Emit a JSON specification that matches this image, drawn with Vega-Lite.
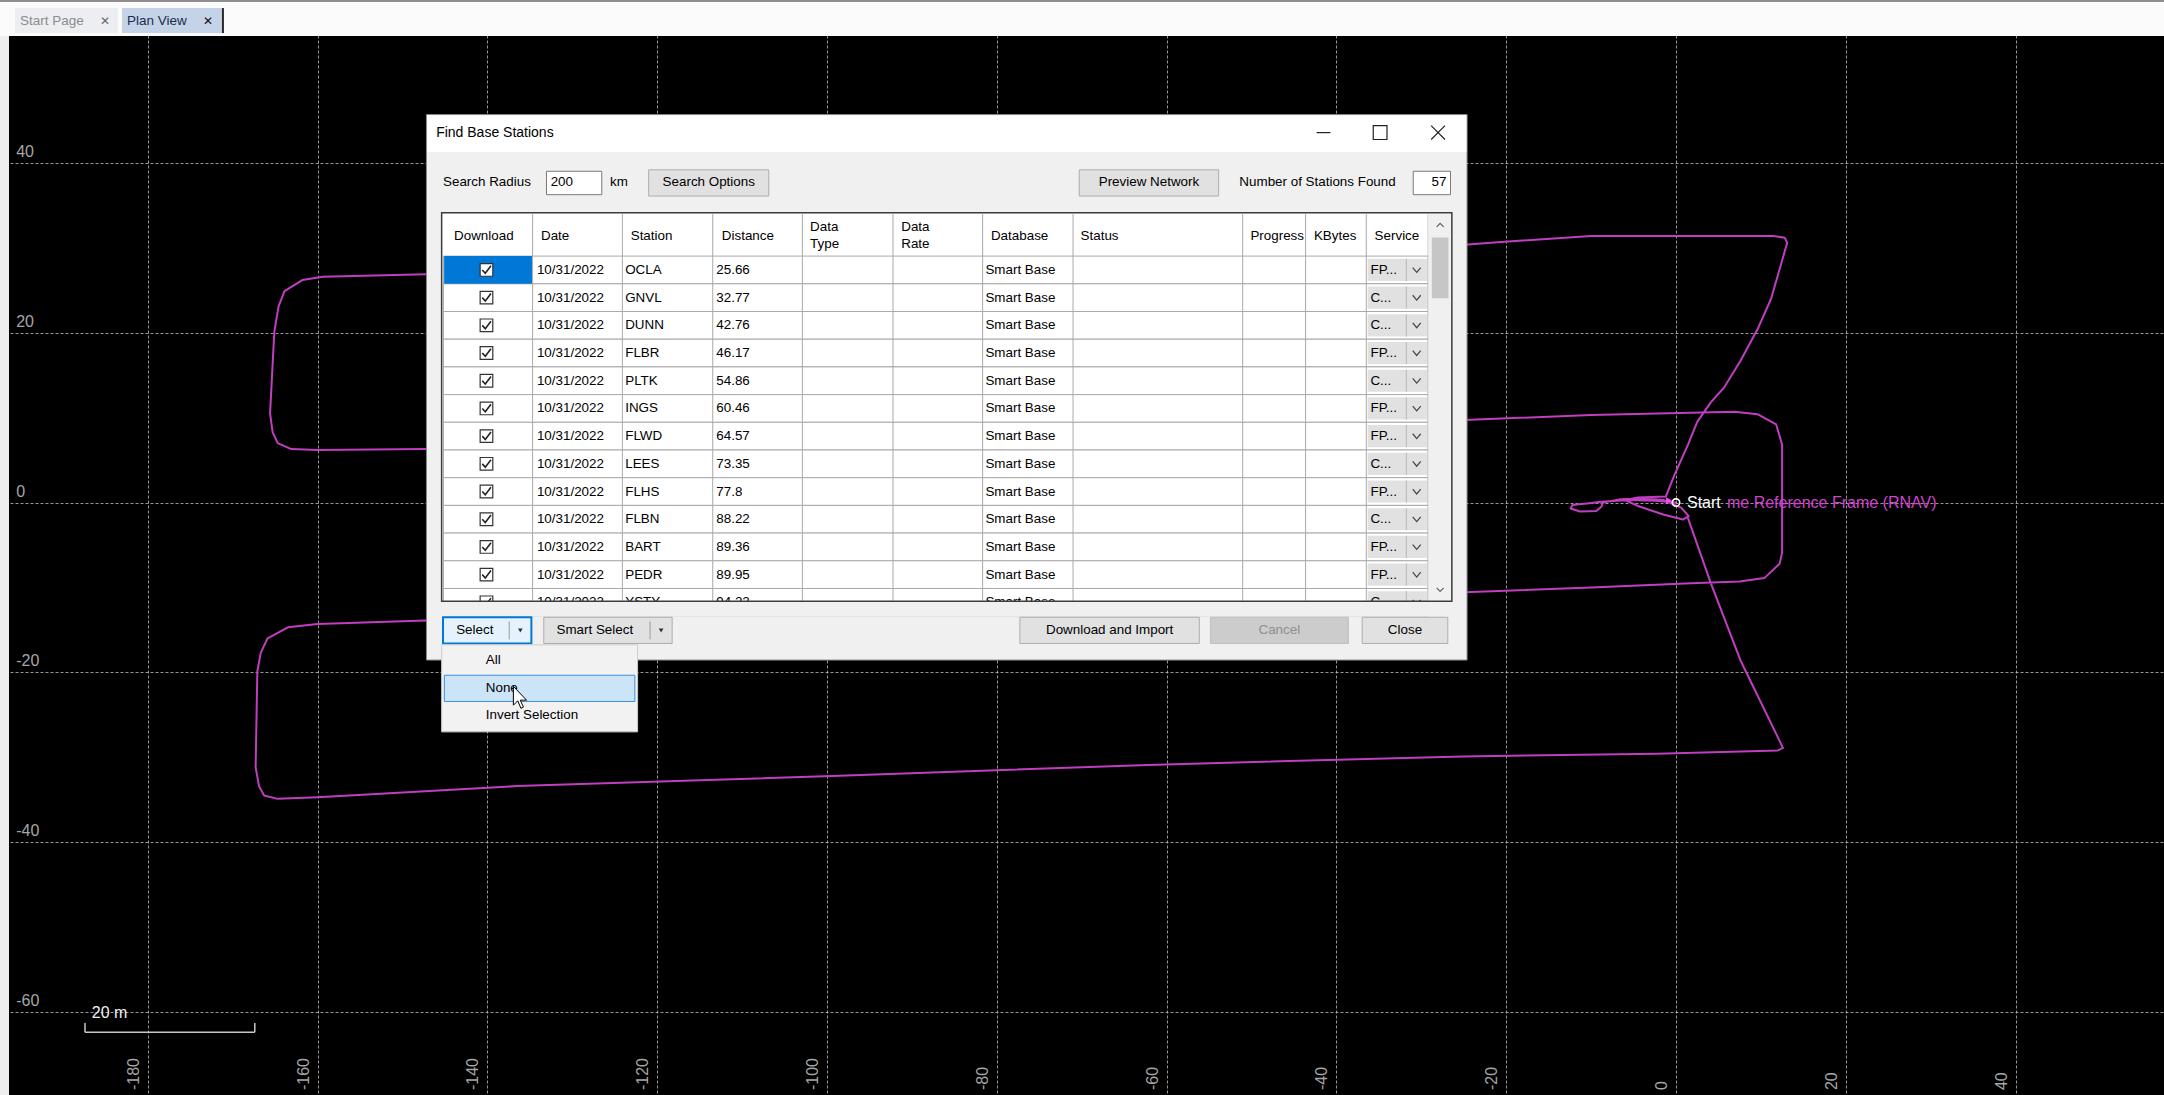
{
"$schema":"https://vega.github.io/schema/vega-lite/v6.json",
"width":2164,"height":1095,
"autosize":{"type":"fit","contains":"padding"},
"padding":0,
"background":"#000000",
"config":{"view":{"stroke":null},"axis":{"labels":false,"ticks":false,"domain":false,"grid":true,"gridColor":"#bdbdbd","gridDash":[3,2],"gridWidth":1,"gridOpacity":0.8},"text":{"font":"Liberation Sans, Arial, sans-serif"}},
"resolve":{"scale":{"y":"independent"}},
"layer":[
{"layer":[
{"data":{"values":[
{"o":1,"x":0,"y":0},{"o":2,"x":-2.5,"y":0.2},{"o":3,"x":-5.5,"y":0.3},{"o":4,"x":-8.8,"y":0.1},{"o":5,"x":-10.5,"y":-0.1},{"o":6,"x":-12.2,"y":-0.3},{"o":7,"x":-12.4,"y":-0.7},{"o":8,"x":-11.3,"y":-1.05},{"o":9,"x":-9.4,"y":-1.0},{"o":10,"x":-8.8,"y":-0.5},{"o":11,"x":-8.6,"y":0.0},{"o":12,"x":-6.5,"y":0.4},{"o":13,"x":-4.0,"y":0.5},{"o":14,"x":-1.5,"y":0.3},{"o":15,"x":0.6,"y":-0.6},{"o":16,"x":1.5,"y":-1.6},{"o":17,"x":0.8,"y":-2.0},{"o":18,"x":-1.5,"y":-1.4},{"o":19,"x":-4.5,"y":-0.4},{"o":20,"x":-6.0,"y":0.3},{"o":21,"x":-4.5,"y":0.6},{"o":22,"x":-1.2,"y":0.7},
{"o":23,"x":-0.2,"y":3.2},{"o":24,"x":1.4,"y":6.8},{"o":25,"x":2.5,"y":9.5},{"o":26,"x":4.1,"y":11.8},{"o":27,"x":5.7,"y":13.6},{"o":28,"x":7.6,"y":16.7},{"o":29,"x":9.6,"y":20.4},{"o":30,"x":11.2,"y":24.0},{"o":31,"x":13.1,"y":30.6},{"o":32,"x":12.8,"y":31.2},{"o":33,"x":11.5,"y":31.4},
{"o":34,"x":-10.0,"y":31.4},{"o":35,"x":-20.6,"y":30.7},{"o":36,"x":-25.7,"y":30.3},{"o":37,"x":-147.3,"y":26.9},{"o":38,"x":-159.4,"y":26.6},{"o":39,"x":-161.8,"y":26.2},{"o":40,"x":-163.9,"y":24.9},{"o":41,"x":-164.6,"y":23.1},{"o":42,"x":-165.1,"y":20.1},{"o":43,"x":-165.6,"y":10.5},{"o":44,"x":-165.3,"y":8.3},{"o":45,"x":-164.7,"y":7.0},{"o":46,"x":-163.1,"y":6.3},{"o":47,"x":-160.0,"y":6.2},{"o":48,"x":-147.3,"y":6.3},
{"o":49,"x":-25.7,"y":9.7},{"o":50,"x":-10.0,"y":10.3},{"o":51,"x":6.9,"y":10.7},{"o":52,"x":9.6,"y":10.4},{"o":53,"x":11.8,"y":9.2},{"o":54,"x":12.5,"y":6.8},{"o":55,"x":12.5,"y":-5.9},{"o":56,"x":12.2,"y":-7.2},{"o":57,"x":10.4,"y":-8.9},{"o":58,"x":7.5,"y":-9.3},{"o":59,"x":1.8,"y":-9.5},{"o":60,"x":-10.0,"y":-10.0},{"o":61,"x":-25.7,"y":-10.6},
{"o":62,"x":-147.3,"y":-13.9},{"o":63,"x":-160.0,"y":-14.3},{"o":64,"x":-163.5,"y":-14.7},{"o":65,"x":-165.9,"y":-16.0},{"o":66,"x":-166.7,"y":-17.7},{"o":67,"x":-167.1,"y":-19.9},{"o":68,"x":-167.3,"y":-31.2},{"o":69,"x":-166.9,"y":-33.4},{"o":70,"x":-166.3,"y":-34.5},{"o":71,"x":-164.7,"y":-34.9},{"o":72,"x":-160.0,"y":-34.7},
{"o":73,"x":-136.5,"y":-33.4},{"o":74,"x":-99.4,"y":-32.2},{"o":75,"x":-62.2,"y":-30.9},{"o":76,"x":-25.1,"y":-29.9},{"o":77,"x":-2.2,"y":-29.6},{"o":78,"x":12.0,"y":-29.2},{"o":79,"x":12.6,"y":-28.9},{"o":80,"x":7.6,"y":-18.6},{"o":81,"x":4.1,"y":-9.5},{"o":82,"x":1.4,"y":-1.8}
]},
"mark":{"type":"line","color":"#c03ec0","strokeWidth":2,"strokeJoin":"round"},
"encoding":{"x":{"field":"x","type":"quantitative","scale":{"domain":[-197.41,57.48],"nice":false,"zero":false},"title":null,"axis":{"values":[-180,-160,-140,-120,-100,-80,-60,-40,-20,0,20,40]}},
"y":{"field":"y","type":"quantitative","scale":{"domain":[-69.78,59.19],"nice":false,"zero":false},"title":null,"axis":{"values":[-60,-40,-20,0,20,40]}},
"order":{"field":"o","type":"quantitative"}}},
{"data":{"values":[{"x":0,"y":0,"name":"Start","frame":"me Reference Frame (RNAV)"}]},
"layer":[
{"mark":{"type":"point","shape":"triangle-right","size":45,"filled":true,"color":"#ff44ff","opacity":1,"xOffset":-7,"yOffset":-2}},
{"mark":{"type":"point","shape":"circle","size":55,"filled":false,"color":"#ffffff","strokeWidth":1.6,"opacity":1}},
{"mark":{"type":"text","align":"left","baseline":"middle","dx":11,"fontSize":16,"color":"#ffffff"},"encoding":{"text":{"field":"name","type":"nominal"}}},
{"mark":{"type":"text","align":"left","baseline":"middle","dx":51,"fontSize":16,"color":"#d044d0"},"encoding":{"text":{"field":"frame","type":"nominal"}}}
],
"encoding":{"x":{"field":"x","type":"quantitative","scale":{"domain":[-197.41,57.48],"nice":false,"zero":false},"title":null},"y":{"field":"y","type":"quantitative","scale":{"domain":[-69.78,59.19],"nice":false,"zero":false},"title":null}}},
{"data":{"values":[{"x":-187.4,"x2":-167.4,"y":-62.4,"y2":-62.4},{"x":-187.4,"x2":-187.4,"y":-62.4,"y2":-61.3},{"x":-167.4,"x2":-167.4,"y":-62.4,"y2":-61.3}]},
"mark":{"type":"rule","color":"#c8c8c8","strokeWidth":1.5},
"encoding":{"x":{"field":"x","type":"quantitative","scale":{"domain":[-197.41,57.48],"nice":false,"zero":false},"title":null},"x2":{"field":"x2"},"y":{"field":"y","type":"quantitative","scale":{"domain":[-69.78,59.19],"nice":false,"zero":false},"title":null},"y2":{"field":"y2"}}},
{"data":{"values":[{"x":-186.6,"y":-60.1,"t":"20 m"}]},
"mark":{"type":"text","align":"left","baseline":"middle","fontSize":16,"color":"#f0f0f0"},
"encoding":{"x":{"field":"x","type":"quantitative","scale":{"domain":[-197.41,57.48],"nice":false,"zero":false},"title":null},"y":{"field":"y","type":"quantitative","scale":{"domain":[-69.78,59.19],"nice":false,"zero":false},"title":null},"text":{"field":"t","type":"nominal"}}},
{"data":{"values":[{"v":40},{"v":20},{"v":0},{"v":-20},{"v":-40},{"v":-60}]},
"mark":{"type":"text","align":"left","baseline":"bottom","dy":-3,"fontSize":16,"color":"#a6a6a6"},
"encoding":{"x":{"datum":-195.5,"type":"quantitative","scale":{"domain":[-197.41,57.48],"nice":false,"zero":false},"title":null},"y":{"field":"v","type":"quantitative","scale":{"domain":[-69.78,59.19],"nice":false,"zero":false},"title":null},"text":{"field":"v","type":"nominal"}}},
{"data":{"values":[{"v":-180},{"v":-160},{"v":-140},{"v":-120},{"v":-100},{"v":-80},{"v":-60},{"v":-40},{"v":-20},{"v":0},{"v":20},{"v":40}]},
"mark":{"type":"text","align":"left","baseline":"alphabetic","angle":270,"dy":-9,"fontSize":16,"color":"#a6a6a6"},
"encoding":{"x":{"field":"v","type":"quantitative","scale":{"domain":[-197.41,57.48],"nice":false,"zero":false},"title":null},"y":{"datum":-69.2,"type":"quantitative","scale":{"domain":[-69.78,59.19],"nice":false,"zero":false},"title":null},"text":{"field":"v","type":"nominal"}}},
{"data":{"values":[{"x":-197.41,"x2":57.48,"y":54.95,"y2":59.19}]},"mark":{"type":"rect","color":"#fbfbfb"},
"encoding":{"x":{"field":"x","type":"quantitative","scale":{"domain":[-197.41,57.48],"nice":false,"zero":false},"title":null},"x2":{"field":"x2"},"y":{"field":"y","type":"quantitative","scale":{"domain":[-69.78,59.19],"nice":false,"zero":false},"title":null},"y2":{"field":"y2"}}},
{"data":{"values":[{"x":-197.41,"x2":57.48,"y":58.95,"y2":59.19}]},"mark":{"type":"rect","color":"#8f8f8f"},
"encoding":{"x":{"field":"x","type":"quantitative","scale":{"domain":[-197.41,57.48],"nice":false,"zero":false},"title":null},"x2":{"field":"x2"},"y":{"field":"y","type":"quantitative","scale":{"domain":[-69.78,59.19],"nice":false,"zero":false},"title":null},"y2":{"field":"y2"}}},
{"data":{"values":[{"x":-195.64,"x2":-183.51,"y":55.3,"y2":58.24}]},"mark":{"type":"rect","color":"#eceef1"},
"encoding":{"x":{"field":"x","type":"quantitative","scale":{"domain":[-197.41,57.48],"nice":false,"zero":false},"title":null},"x2":{"field":"x2"},"y":{"field":"y","type":"quantitative","scale":{"domain":[-69.78,59.19],"nice":false,"zero":false},"title":null},"y2":{"field":"y2"}}},
{"data":{"values":[{"x":-183.04,"x2":-171.15,"y":55.3,"y2":58.24}]},"mark":{"type":"rect","color":"#c5d3e8"},
"encoding":{"x":{"field":"x","type":"quantitative","scale":{"domain":[-197.41,57.48],"nice":false,"zero":false},"title":null},"x2":{"field":"x2"},"y":{"field":"y","type":"quantitative","scale":{"domain":[-69.78,59.19],"nice":false,"zero":false},"title":null},"y2":{"field":"y2"}}},
{"data":{"values":[{"x":-171.15,"y":55.3,"y2":58.24}]},"mark":{"type":"rule","color":"#2b2b2b","strokeWidth":2},
"encoding":{"x":{"field":"x","type":"quantitative","scale":{"domain":[-197.41,57.48],"nice":false,"zero":false},"title":null},"y":{"field":"y","type":"quantitative","scale":{"domain":[-69.78,59.19],"nice":false,"zero":false},"title":null},"y2":{"field":"y2"}}},
{"data":{"values":[{"x":-195.05,"y":56.71,"t":"Start Page"}]},"mark":{"type":"text","align":"left","baseline":"middle","fontSize":13.5,"color":"#8c8c8c"},
"encoding":{"x":{"field":"x","type":"quantitative","scale":{"domain":[-197.41,57.48],"nice":false,"zero":false},"title":null},"y":{"field":"y","type":"quantitative","scale":{"domain":[-69.78,59.19],"nice":false,"zero":false},"title":null},"text":{"field":"t","type":"nominal"}}},
{"data":{"values":[{"x":-182.45,"y":56.71,"t":"Plan View"}]},"mark":{"type":"text","align":"left","baseline":"middle","fontSize":13.5,"color":"#1d2a4d"},
"encoding":{"x":{"field":"x","type":"quantitative","scale":{"domain":[-197.41,57.48],"nice":false,"zero":false},"title":null},"y":{"field":"y","type":"quantitative","scale":{"domain":[-69.78,59.19],"nice":false,"zero":false},"title":null},"text":{"field":"t","type":"nominal"}}},
{"data":{"values":[{"x":-185.04,"y":56.71,"t":"✕"}]},"mark":{"type":"text","align":"center","baseline":"middle","fontSize":12,"fontWeight":"bold","font":"DejaVu Sans","color":"#6a6a6a"},
"encoding":{"x":{"field":"x","type":"quantitative","scale":{"domain":[-197.41,57.48],"nice":false,"zero":false},"title":null},"y":{"field":"y","type":"quantitative","scale":{"domain":[-69.78,59.19],"nice":false,"zero":false},"title":null},"text":{"field":"t","type":"nominal"}}},
{"data":{"values":[{"x":-172.91,"y":56.71,"t":"✕"}]},"mark":{"type":"text","align":"center","baseline":"middle","fontSize":12,"fontWeight":"bold","font":"DejaVu Sans","color":"#111111"},
"encoding":{"x":{"field":"x","type":"quantitative","scale":{"domain":[-197.41,57.48],"nice":false,"zero":false},"title":null},"y":{"field":"y","type":"quantitative","scale":{"domain":[-69.78,59.19],"nice":false,"zero":false},"title":null},"text":{"field":"t","type":"nominal"}}},
{"data":{"values":[{"x":-197.41,"x2":-196.35,"y":-69.78,"y2":54.95}]},"mark":{"type":"rect","color":"#eeeeee"},
"encoding":{"x":{"field":"x","type":"quantitative","scale":{"domain":[-197.41,57.48],"nice":false,"zero":false},"title":null},"x2":{"field":"x2"},"y":{"field":"y","type":"quantitative","scale":{"domain":[-69.78,59.19],"nice":false,"zero":false},"title":null},"y2":{"field":"y2"}}},
{"data":{"values":[{"x":-147.18,"x2":-24.61,"y":-18.55,"y2":45.69}]},"mark":{"type":"rect","fill":"#f0f0f0","stroke":"#8a8a8a","strokeWidth":1},
"encoding":{"x":{"field":"x","type":"quantitative","scale":{"domain":[-197.41,57.48],"nice":false,"zero":false},"title":null},"x2":{"field":"x2"},"y":{"field":"y","type":"quantitative","scale":{"domain":[-69.78,59.19],"nice":false,"zero":false},"title":null},"y2":{"field":"y2"}}},
{"data":{"values":[{"x":-147.1,"x2":-24.69,"y":41.3,"y2":45.62}]},"mark":{"type":"rect","color":"#ffffff"},
"encoding":{"x":{"field":"x","type":"quantitative","scale":{"domain":[-197.41,57.48],"nice":false,"zero":false},"title":null},"x2":{"field":"x2"},"y":{"field":"y","type":"quantitative","scale":{"domain":[-69.78,59.19],"nice":false,"zero":false},"title":null},"y2":{"field":"y2"}}},
{"data":{"values":[{"x":-146.04,"y":43.57,"t":"Find Base Stations"}]},"mark":{"type":"text","align":"left","baseline":"middle","fontSize":14,"color":"#000000"},
"encoding":{"x":{"field":"x","type":"quantitative","scale":{"domain":[-197.41,57.48],"nice":false,"zero":false},"title":null},"y":{"field":"y","type":"quantitative","scale":{"domain":[-69.78,59.19],"nice":false,"zero":false},"title":null},"text":{"field":"t","type":"nominal"}}},
{"data":{"values":[{"x":-42.33,"x2":-40.7,"y":43.57,"y2":43.57},{"x":-28.84,"x2":-27.21,"y":44.39,"y2":42.76},{"x":-28.84,"x2":-27.21,"y":42.76,"y2":44.39}]},"mark":{"type":"rule","color":"#222222","strokeWidth":1.2},
"encoding":{"x":{"field":"x","type":"quantitative","scale":{"domain":[-197.41,57.48],"nice":false,"zero":false},"title":null},"x2":{"field":"x2"},"y":{"field":"y","type":"quantitative","scale":{"domain":[-69.78,59.19],"nice":false,"zero":false},"title":null},"y2":{"field":"y2"}}},
{"data":{"values":[{"x":-35.66,"x2":-34.04,"y":42.76,"y2":44.39}]},"mark":{"type":"rect","fill":"transparent","stroke":"#222222","strokeWidth":1.2},
"encoding":{"x":{"field":"x","type":"quantitative","scale":{"domain":[-197.41,57.48],"nice":false,"zero":false},"title":null},"x2":{"field":"x2"},"y":{"field":"y","type":"quantitative","scale":{"domain":[-69.78,59.19],"nice":false,"zero":false},"title":null},"y2":{"field":"y2"}}},
{"data":{"values":[{"x":-133.04,"x2":-126.53,"y":36.26,"y2":39.02},{"x":-30.95,"x2":-26.56,"y":36.26,"y2":39.02}]},"mark":{"type":"rect","fill":"#ffffff","stroke":"#7a7a7a","strokeWidth":1},
"encoding":{"x":{"field":"x","type":"quantitative","scale":{"domain":[-197.41,57.48],"nice":false,"zero":false},"title":null},"x2":{"field":"x2"},"y":{"field":"y","type":"quantitative","scale":{"domain":[-69.78,59.19],"nice":false,"zero":false},"title":null},"y2":{"field":"y2"}}},
{"data":{"values":[{"x":-121.01,"x2":-106.86,"y":36.1,"y2":39.19},{"x":-70.29,"x2":-53.87,"y":36.1,"y2":39.19}]},"mark":{"type":"rect","fill":"#e1e1e1","stroke":"#adadad","strokeWidth":1},
"encoding":{"x":{"field":"x","type":"quantitative","scale":{"domain":[-197.41,57.48],"nice":false,"zero":false},"title":null},"x2":{"field":"x2"},"y":{"field":"y","type":"quantitative","scale":{"domain":[-69.78,59.19],"nice":false,"zero":false},"title":null},"y2":{"field":"y2"}}},
{"data":{"values":[{"x":-145.23,"y":37.72,"t":"Search Radius"},{"x":-132.55,"y":37.72,"t":"200"},{"x":-125.56,"y":37.72,"t":"km"},{"x":-51.43,"y":37.72,"t":"Number of Stations Found"}]},
"mark":{"type":"text","align":"left","baseline":"middle","fontSize":13.4,"color":"#000000"},
"encoding":{"x":{"field":"x","type":"quantitative","scale":{"domain":[-197.41,57.48],"nice":false,"zero":false},"title":null},"y":{"field":"y","type":"quantitative","scale":{"domain":[-69.78,59.19],"nice":false,"zero":false},"title":null},"text":{"field":"t","type":"nominal"}}},
{"data":{"values":[{"x":-113.93,"y":37.72,"t":"Search Options"},{"x":-62.08,"y":37.72,"t":"Preview Network"}]},
"mark":{"type":"text","align":"center","baseline":"middle","fontSize":13.4,"color":"#000000"},
"encoding":{"x":{"field":"x","type":"quantitative","scale":{"domain":[-197.41,57.48],"nice":false,"zero":false},"title":null},"y":{"field":"y","type":"quantitative","scale":{"domain":[-69.78,59.19],"nice":false,"zero":false},"title":null},"text":{"field":"t","type":"nominal"}}},
{"data":{"values":[{"x":-27.05,"y":37.72,"t":"57"}]},
"mark":{"type":"text","align":"right","baseline":"middle","fontSize":13.4,"color":"#000000"},
"encoding":{"x":{"field":"x","type":"quantitative","scale":{"domain":[-197.41,57.48],"nice":false,"zero":false},"title":null},"y":{"field":"y","type":"quantitative","scale":{"domain":[-69.78,59.19],"nice":false,"zero":false},"title":null},"text":{"field":"t","type":"nominal"}}},
{"data":{"values":[{"x":-145.39,"x2":-26.4,"y":-11.62,"y2":34.14}]},"mark":{"type":"rect","color":"#ffffff"},
"encoding":{"x":{"field":"x","type":"quantitative","scale":{"domain":[-197.41,57.48],"nice":false,"zero":false},"title":null},"x2":{"field":"x2"},"y":{"field":"y","type":"quantitative","scale":{"domain":[-69.78,59.19],"nice":false,"zero":false},"title":null},"y2":{"field":"y2"}}},
{"data":{"values":[{"x":-143.93,"y":31.38,"t":"Download"},{"x":-133.69,"y":31.38,"t":"Date"},{"x":-123.12,"y":31.38,"t":"Station"},{"x":-112.39,"y":31.38,"t":"Distance"},{"x":-101.99,"y":32.51,"t":"Data"},{"x":-101.99,"y":30.4,"t":"Type"},{"x":-91.26,"y":32.51,"t":"Data"},{"x":-91.26,"y":30.4,"t":"Rate"},{"x":-80.69,"y":31.38,"t":"Database"},{"x":-70.13,"y":31.38,"t":"Status"},{"x":-50.13,"y":31.38,"t":"Progress"},{"x":-42.65,"y":31.38,"t":"KBytes"},{"x":-35.5,"y":31.38,"t":"Service"}]},
"mark":{"type":"text","align":"left","baseline":"middle","fontSize":13.4,"color":"#000000"},
"encoding":{"x":{"field":"x","type":"quantitative","scale":{"domain":[-197.41,57.48],"nice":false,"zero":false},"title":null},"y":{"field":"y","type":"quantitative","scale":{"domain":[-69.78,59.19],"nice":false,"zero":false},"title":null},"text":{"field":"t","type":"nominal"}}}
]},
{"data":{"values":[
{"station":"OCLA","date":"10/31/2022","dist":25.66,"db":"Smart Base","svc":"FP..."},
{"station":"GNVL","date":"10/31/2022","dist":32.77,"db":"Smart Base","svc":"C..."},
{"station":"DUNN","date":"10/31/2022","dist":42.76,"db":"Smart Base","svc":"C..."},
{"station":"FLBR","date":"10/31/2022","dist":46.17,"db":"Smart Base","svc":"FP..."},
{"station":"PLTK","date":"10/31/2022","dist":54.86,"db":"Smart Base","svc":"C..."},
{"station":"INGS","date":"10/31/2022","dist":60.46,"db":"Smart Base","svc":"FP..."},
{"station":"FLWD","date":"10/31/2022","dist":64.57,"db":"Smart Base","svc":"FP..."},
{"station":"LEES","date":"10/31/2022","dist":73.35,"db":"Smart Base","svc":"C..."},
{"station":"FLHS","date":"10/31/2022","dist":77.8,"db":"Smart Base","svc":"FP..."},
{"station":"FLBN","date":"10/31/2022","dist":88.22,"db":"Smart Base","svc":"C..."},
{"station":"BART","date":"10/31/2022","dist":89.36,"db":"Smart Base","svc":"FP..."},
{"station":"PEDR","date":"10/31/2022","dist":89.95,"db":"Smart Base","svc":"FP..."},
{"station":"YSTY","date":"10/31/2022","dist":94.22,"db":"Smart Base","svc":"C..."}
]},
"layer":[
{"mark":{"type":"rect","fill":"#ffffff","stroke":"#a9a9a9","strokeWidth":1},
"encoding":{"x":{"datum":-145.18,"type":"quantitative","scale":{"domain":[-197.41,57.48],"nice":false,"zero":false},"title":null},"x2":{"datum":-29.19},"y":{"field":"station","type":"nominal","scale":{"domain":["p1","p2","p3","p4","p5","p6","p7","p8","p9","OCLA","GNVL","DUNN","FLBR","PLTK","INGS","FLWD","LEES","FLHS","FLBN","BART","PEDR","YSTY","q1","q2","q3","q4","q5","q6","q7","q8","q9","q10","q11","q12","q13","q14","q15","q16","q17"],"paddingInner":0,"paddingOuter":0.266,"align":0.462,"round":false},"axis":null,"title":null}}},
{"transform":[{"filter":"datum.station === 'OCLA'"}],"mark":{"type":"rect","color":"#0078d7"},
"encoding":{"x":{"datum":-145.1,"type":"quantitative","scale":{"domain":[-197.41,57.48],"nice":false,"zero":false},"title":null},"x2":{"datum":-134.75},"y":{"field":"station","type":"nominal","scale":{"domain":["p1","p2","p3","p4","p5","p6","p7","p8","p9","OCLA","GNVL","DUNN","FLBR","PLTK","INGS","FLWD","LEES","FLHS","FLBN","BART","PEDR","YSTY","q1","q2","q3","q4","q5","q6","q7","q8","q9","q10","q11","q12","q13","q14","q15","q16","q17"],"paddingInner":0,"paddingOuter":0.266,"align":0.462,"round":false},"axis":null,"title":null}}},
{"mark":{"type":"bar","color":"#e1e1e1","height":{"band":0.8}},
"encoding":{"x":{"datum":-36.32,"type":"quantitative","scale":{"domain":[-197.41,57.48],"nice":false,"zero":false},"title":null},"x2":{"datum":-29.32},"y":{"field":"station","type":"nominal","scale":{"domain":["p1","p2","p3","p4","p5","p6","p7","p8","p9","OCLA","GNVL","DUNN","FLBR","PLTK","INGS","FLWD","LEES","FLHS","FLBN","BART","PEDR","YSTY","q1","q2","q3","q4","q5","q6","q7","q8","q9","q10","q11","q12","q13","q14","q15","q16","q17"],"paddingInner":0,"paddingOuter":0.266,"align":0.462,"round":false},"axis":null,"title":null}}},
{"mark":{"type":"bar","color":"#b9b9b9","height":{"band":0.8}},
"encoding":{"x":{"datum":-31.82,"type":"quantitative","scale":{"domain":[-197.41,57.48],"nice":false,"zero":false},"title":null},"x2":{"datum":-31.7},"y":{"field":"station","type":"nominal","scale":{"domain":["p1","p2","p3","p4","p5","p6","p7","p8","p9","OCLA","GNVL","DUNN","FLBR","PLTK","INGS","FLWD","LEES","FLHS","FLBN","BART","PEDR","YSTY","q1","q2","q3","q4","q5","q6","q7","q8","q9","q10","q11","q12","q13","q14","q15","q16","q17"],"paddingInner":0,"paddingOuter":0.266,"align":0.462,"round":false},"axis":null,"title":null}}},
{"mark":{"type":"point","shape":"square","size":160,"filled":true,"fill":"#ffffff","stroke":"#333333","strokeWidth":1.2,"opacity":1},
"encoding":{"x":{"datum":-140.11,"type":"quantitative","scale":{"domain":[-197.41,57.48],"nice":false,"zero":false},"title":null},"y":{"field":"station","type":"nominal","scale":{"domain":["p1","p2","p3","p4","p5","p6","p7","p8","p9","OCLA","GNVL","DUNN","FLBR","PLTK","INGS","FLWD","LEES","FLHS","FLBN","BART","PEDR","YSTY","q1","q2","q3","q4","q5","q6","q7","q8","q9","q10","q11","q12","q13","q14","q15","q16","q17"],"paddingInner":0,"paddingOuter":0.266,"align":0.462,"round":false},"axis":null,"title":null}}},
{"mark":{"type":"point","shape":"M-0.7,0L-0.2,0.55L0.75,-0.7","size":144,"filled":false,"color":"#222222","strokeWidth":1.6,"opacity":1},
"encoding":{"x":{"datum":-140.11,"type":"quantitative","scale":{"domain":[-197.41,57.48],"nice":false,"zero":false},"title":null},"y":{"field":"station","type":"nominal","scale":{"domain":["p1","p2","p3","p4","p5","p6","p7","p8","p9","OCLA","GNVL","DUNN","FLBR","PLTK","INGS","FLWD","LEES","FLHS","FLBN","BART","PEDR","YSTY","q1","q2","q3","q4","q5","q6","q7","q8","q9","q10","q11","q12","q13","q14","q15","q16","q17"],"paddingInner":0,"paddingOuter":0.266,"align":0.462,"round":false},"axis":null,"title":null}}},
{"mark":{"type":"text","align":"left","baseline":"middle","fontSize":13.4,"color":"#000000"},
"encoding":{"x":{"datum":-134.17,"type":"quantitative","scale":{"domain":[-197.41,57.48],"nice":false,"zero":false},"title":null},"y":{"field":"station","type":"nominal","scale":{"domain":["p1","p2","p3","p4","p5","p6","p7","p8","p9","OCLA","GNVL","DUNN","FLBR","PLTK","INGS","FLWD","LEES","FLHS","FLBN","BART","PEDR","YSTY","q1","q2","q3","q4","q5","q6","q7","q8","q9","q10","q11","q12","q13","q14","q15","q16","q17"],"paddingInner":0,"paddingOuter":0.266,"align":0.462,"round":false},"axis":null,"title":null},"text":{"field":"date","type":"nominal"}}},
{"mark":{"type":"text","align":"left","baseline":"middle","fontSize":13.4,"color":"#000000"},
"encoding":{"x":{"datum":-123.77,"type":"quantitative","scale":{"domain":[-197.41,57.48],"nice":false,"zero":false},"title":null},"y":{"field":"station","type":"nominal","scale":{"domain":["p1","p2","p3","p4","p5","p6","p7","p8","p9","OCLA","GNVL","DUNN","FLBR","PLTK","INGS","FLWD","LEES","FLHS","FLBN","BART","PEDR","YSTY","q1","q2","q3","q4","q5","q6","q7","q8","q9","q10","q11","q12","q13","q14","q15","q16","q17"],"paddingInner":0,"paddingOuter":0.266,"align":0.462,"round":false},"axis":null,"title":null},"text":{"field":"station","type":"nominal"}}},
{"mark":{"type":"text","align":"left","baseline":"middle","fontSize":13.4,"color":"#000000"},
"encoding":{"x":{"datum":-113.04,"type":"quantitative","scale":{"domain":[-197.41,57.48],"nice":false,"zero":false},"title":null},"y":{"field":"station","type":"nominal","scale":{"domain":["p1","p2","p3","p4","p5","p6","p7","p8","p9","OCLA","GNVL","DUNN","FLBR","PLTK","INGS","FLWD","LEES","FLHS","FLBN","BART","PEDR","YSTY","q1","q2","q3","q4","q5","q6","q7","q8","q9","q10","q11","q12","q13","q14","q15","q16","q17"],"paddingInner":0,"paddingOuter":0.266,"align":0.462,"round":false},"axis":null,"title":null},"text":{"field":"dist","type":"nominal"}}},
{"mark":{"type":"text","align":"left","baseline":"middle","fontSize":13.4,"color":"#000000"},
"encoding":{"x":{"datum":-81.34,"type":"quantitative","scale":{"domain":[-197.41,57.48],"nice":false,"zero":false},"title":null},"y":{"field":"station","type":"nominal","scale":{"domain":["p1","p2","p3","p4","p5","p6","p7","p8","p9","OCLA","GNVL","DUNN","FLBR","PLTK","INGS","FLWD","LEES","FLHS","FLBN","BART","PEDR","YSTY","q1","q2","q3","q4","q5","q6","q7","q8","q9","q10","q11","q12","q13","q14","q15","q16","q17"],"paddingInner":0,"paddingOuter":0.266,"align":0.462,"round":false},"axis":null,"title":null},"text":{"field":"db","type":"nominal"}}},
{"mark":{"type":"text","align":"left","baseline":"middle","fontSize":13.4,"color":"#000000"},
"encoding":{"x":{"datum":-35.99,"type":"quantitative","scale":{"domain":[-197.41,57.48],"nice":false,"zero":false},"title":null},"y":{"field":"station","type":"nominal","scale":{"domain":["p1","p2","p3","p4","p5","p6","p7","p8","p9","OCLA","GNVL","DUNN","FLBR","PLTK","INGS","FLWD","LEES","FLHS","FLBN","BART","PEDR","YSTY","q1","q2","q3","q4","q5","q6","q7","q8","q9","q10","q11","q12","q13","q14","q15","q16","q17"],"paddingInner":0,"paddingOuter":0.266,"align":0.462,"round":false},"axis":null,"title":null},"text":{"field":"svc","type":"nominal"}}},
{"mark":{"type":"point","shape":"M-1,-0.6L0,0.6L1,-0.6","size":64,"filled":false,"color":"#444444","strokeWidth":1.2,"opacity":1},
"encoding":{"x":{"datum":-30.54,"type":"quantitative","scale":{"domain":[-197.41,57.48],"nice":false,"zero":false},"title":null},"y":{"field":"station","type":"nominal","scale":{"domain":["p1","p2","p3","p4","p5","p6","p7","p8","p9","OCLA","GNVL","DUNN","FLBR","PLTK","INGS","FLWD","LEES","FLHS","FLBN","BART","PEDR","YSTY","q1","q2","q3","q4","q5","q6","q7","q8","q9","q10","q11","q12","q13","q14","q15","q16","q17"],"paddingInner":0,"paddingOuter":0.266,"align":0.462,"round":false},"axis":null,"title":null}}}
]},
{"layer":[
{"data":{"values":[{"x":-134.68},{"x":-124.1},{"x":-113.46},{"x":-102.9},{"x":-92.23},{"x":-81.67},{"x":-71.02},{"x":-51.04},{"x":-43.63},{"x":-36.48},{"x":-29.19}]},
"mark":{"type":"rule","color":"#a9a9a9","strokeWidth":1},
"encoding":{"x":{"field":"x","type":"quantitative","scale":{"domain":[-197.41,57.48],"nice":false,"zero":false},"title":null},"y":{"datum":33.98,"type":"quantitative","scale":{"domain":[-69.78,59.19],"nice":false,"zero":false},"axis":null,"title":null},"y2":{"datum":-11.56}}},
{"data":{"values":[{"x":-145.6,"x2":-26.2,"y":-13.45,"y2":-11.62},{"x":-29.19,"x2":-26.4,"y":-11.56,"y2":33.98}]},"mark":{"type":"rect","color":"#f0f0f0"},
"encoding":{"x":{"field":"x","type":"quantitative","scale":{"domain":[-197.41,57.48],"nice":false,"zero":false},"title":null},"x2":{"field":"x2"},"y":{"field":"y","type":"quantitative","scale":{"domain":[-69.78,59.19],"nice":false,"zero":false},"axis":null,"title":null},"y2":{"field":"y2"}}},
{"data":{"values":[{"x":-28.76,"x2":-26.8,"y":24.06,"y2":31.22}]},"mark":{"type":"rect","color":"#c6c6c6"},
"encoding":{"x":{"field":"x","type":"quantitative","scale":{"domain":[-197.41,57.48],"nice":false,"zero":false},"title":null},"x2":{"field":"x2"},"y":{"field":"y","type":"quantitative","scale":{"domain":[-69.78,59.19],"nice":false,"zero":false},"axis":null,"title":null},"y2":{"field":"y2"}}},
{"data":{"values":[{"x":-27.78,"y":32.68}]},"mark":{"type":"point","shape":"M-1,0.5L0,-0.5L1,0.5","size":49,"filled":false,"color":"#606060","strokeWidth":1.2,"opacity":1},
"encoding":{"x":{"field":"x","type":"quantitative","scale":{"domain":[-197.41,57.48],"nice":false,"zero":false},"title":null},"y":{"field":"y","type":"quantitative","scale":{"domain":[-69.78,59.19],"nice":false,"zero":false},"axis":null,"title":null}}},
{"data":{"values":[{"x":-27.78,"y":-10.26}]},"mark":{"type":"point","shape":"M-1,-0.5L0,0.5L1,-0.5","size":49,"filled":false,"color":"#606060","strokeWidth":1.2,"opacity":1},
"encoding":{"x":{"field":"x","type":"quantitative","scale":{"domain":[-197.41,57.48],"nice":false,"zero":false},"title":null},"y":{"field":"y","type":"quantitative","scale":{"domain":[-69.78,59.19],"nice":false,"zero":false},"axis":null,"title":null}}},
{"data":{"values":[{"x":-145.39,"x2":-26.4,"y":-11.62,"y2":34.14}]},"mark":{"type":"rect","fill":"transparent","stroke":"#3c3c3c","strokeWidth":1.5},
"encoding":{"x":{"field":"x","type":"quantitative","scale":{"domain":[-197.41,57.48],"nice":false,"zero":false},"title":null},"x2":{"field":"x2"},"y":{"field":"y","type":"quantitative","scale":{"domain":[-69.78,59.19],"nice":false,"zero":false},"axis":null,"title":null},"y2":{"field":"y2"}}},
{"data":{"values":[{"x":-133.36,"x2":-118.24,"y":-16.6,"y2":-13.51},{"x":-77.28,"x2":-56.15,"y":-16.6,"y2":-13.51},{"x":-36.96,"x2":-26.88,"y":-16.6,"y2":-13.51}]},"mark":{"type":"rect","fill":"#e1e1e1","stroke":"#adadad","strokeWidth":1},
"encoding":{"x":{"field":"x","type":"quantitative","scale":{"domain":[-197.41,57.48],"nice":false,"zero":false},"title":null},"x2":{"field":"x2"},"y":{"field":"y","type":"quantitative","scale":{"domain":[-69.78,59.19],"nice":false,"zero":false},"axis":null,"title":null},"y2":{"field":"y2"}}},
{"data":{"values":[{"x":-145.23,"x2":-134.82,"y":-16.6,"y2":-13.51}]},"mark":{"type":"rect","fill":"#e5f1fb","stroke":"#0078d7","strokeWidth":2},
"encoding":{"x":{"field":"x","type":"quantitative","scale":{"domain":[-197.41,57.48],"nice":false,"zero":false},"title":null},"x2":{"field":"x2"},"y":{"field":"y","type":"quantitative","scale":{"domain":[-69.78,59.19],"nice":false,"zero":false},"axis":null,"title":null},"y2":{"field":"y2"}}},
{"data":{"values":[{"x":-54.84,"x2":-38.59,"y":-16.6,"y2":-13.51}]},"mark":{"type":"rect","fill":"#cccccc","stroke":"#bfbfbf","strokeWidth":1},
"encoding":{"x":{"field":"x","type":"quantitative","scale":{"domain":[-197.41,57.48],"nice":false,"zero":false},"title":null},"x2":{"field":"x2"},"y":{"field":"y","type":"quantitative","scale":{"domain":[-69.78,59.19],"nice":false,"zero":false},"axis":null,"title":null},"y2":{"field":"y2"}}},
{"data":{"values":[{"x":-137.43,"y":-14.0,"y2":-16.11},{"x":-120.84,"y":-14.0,"y2":-16.11}]},"mark":{"type":"rule","color":"#9a9a9a","strokeWidth":1},
"encoding":{"x":{"field":"x","type":"quantitative","scale":{"domain":[-197.41,57.48],"nice":false,"zero":false},"title":null},"y":{"field":"y","type":"quantitative","scale":{"domain":[-69.78,59.19],"nice":false,"zero":false},"axis":null,"title":null},"y2":{"field":"y2"}}},
{"data":{"values":[{"x":-136.12,"y":-15.06},{"x":-119.54,"y":-15.06}]},"mark":{"type":"point","shape":"triangle-down","size":22,"filled":true,"color":"#333333","opacity":1},
"encoding":{"x":{"field":"x","type":"quantitative","scale":{"domain":[-197.41,57.48],"nice":false,"zero":false},"title":null},"y":{"field":"y","type":"quantitative","scale":{"domain":[-69.78,59.19],"nice":false,"zero":false},"axis":null,"title":null}}},
{"data":{"values":[{"x":-141.49,"y":-15.06,"t":"Select"},{"x":-127.35,"y":-15.06,"t":"Smart Select"},{"x":-66.71,"y":-15.06,"t":"Download and Import"},{"x":-31.92,"y":-15.06,"t":"Close"}]},
"mark":{"type":"text","align":"center","baseline":"middle","fontSize":13.4,"color":"#000000"},
"encoding":{"x":{"field":"x","type":"quantitative","scale":{"domain":[-197.41,57.48],"nice":false,"zero":false},"title":null},"y":{"field":"y","type":"quantitative","scale":{"domain":[-69.78,59.19],"nice":false,"zero":false},"axis":null,"title":null},"text":{"field":"t","type":"nominal"}}},
{"data":{"values":[{"x":-46.72,"y":-15.06,"t":"Cancel"}]},
"mark":{"type":"text","align":"center","baseline":"middle","fontSize":13.4,"color":"#8f8f8f"},
"encoding":{"x":{"field":"x","type":"quantitative","scale":{"domain":[-197.41,57.48],"nice":false,"zero":false},"title":null},"y":{"field":"y","type":"quantitative","scale":{"domain":[-69.78,59.19],"nice":false,"zero":false},"axis":null,"title":null},"text":{"field":"t","type":"nominal"}}},
{"data":{"values":[{"x":-145.39,"x2":-122.31,"y":-27.01,"y2":-16.76}]},"mark":{"type":"rect","fill":"#f2f2f2","stroke":"#cccccc","strokeWidth":1},
"encoding":{"x":{"field":"x","type":"quantitative","scale":{"domain":[-197.41,57.48],"nice":false,"zero":false},"title":null},"x2":{"field":"x2"},"y":{"field":"y","type":"quantitative","scale":{"domain":[-69.78,59.19],"nice":false,"zero":false},"axis":null,"title":null},"y2":{"field":"y2"}}},
{"data":{"values":[{"x":-145.07,"x2":-122.63,"y":-23.43,"y2":-20.34}]},"mark":{"type":"rect","fill":"#cce4f7","stroke":"#3c8fdd","strokeWidth":1},
"encoding":{"x":{"field":"x","type":"quantitative","scale":{"domain":[-197.41,57.48],"nice":false,"zero":false},"title":null},"x2":{"field":"x2"},"y":{"field":"y","type":"quantitative","scale":{"domain":[-69.78,59.19],"nice":false,"zero":false},"axis":null,"title":null},"y2":{"field":"y2"}}},
{"data":{"values":[{"x":-140.19,"y":-18.55,"t":"All"},{"x":-140.19,"y":-21.81,"t":"None"},{"x":-140.19,"y":-25.06,"t":"Invert Selection"}]},
"mark":{"type":"text","align":"left","baseline":"middle","fontSize":13.4,"color":"#000000"},
"encoding":{"x":{"field":"x","type":"quantitative","scale":{"domain":[-197.41,57.48],"nice":false,"zero":false},"title":null},"y":{"field":"y","type":"quantitative","scale":{"domain":[-69.78,59.19],"nice":false,"zero":false},"axis":null,"title":null},"text":{"field":"t","type":"nominal"}}},
{"data":{"values":[{"x":-136.94,"y":-21.65}]},"mark":{"type":"point","shape":"M0,0L0,1.5L0.35,1.15L0.6,1.75L0.8,1.65L0.55,1.1L1.05,1.1Z","size":630,"filled":true,"fill":"#ffffff","stroke":"#000000","strokeWidth":1,"opacity":1},
"encoding":{"x":{"field":"x","type":"quantitative","scale":{"domain":[-197.41,57.48],"nice":false,"zero":false},"title":null},"y":{"field":"y","type":"quantitative","scale":{"domain":[-69.78,59.19],"nice":false,"zero":false},"axis":null,"title":null}}}
]}
]
}
